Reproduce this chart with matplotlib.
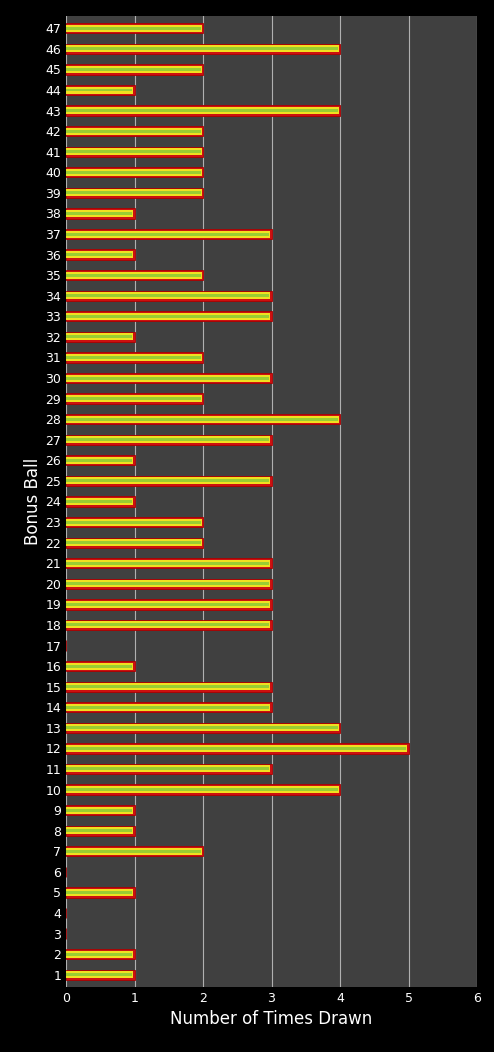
import matplotlib
matplotlib.use("Agg")
import matplotlib.pyplot as plt
import numpy as np

balls = list(range(1, 48))
counts = [1,1,0,0,1,0,2,1,1,4,3,5,4,3,3,1,0,3,3,3,3,2,2,1,3,1,3,4,2,3,2,1,3,3,2,1,3,1,2,2,2,2,4,1,2,4,2]

fig = plt.figure(figsize=(4.94, 10.52), dpi=100, facecolor="black")
ax = fig.add_axes([66/494, 1-987/1052, (477-66)/494, (987-16)/1052])
ax.set_facecolor("#404040")

y = np.array(balls)
ax.barh(y, counts, height=0.5, color="#cc1010", edgecolor="#aa0000", linewidth=0.6, zorder=3)
ax.barh(y, [max(c-0.02,0) for c in counts], height=0.34, color="#f0e020", linewidth=0, zorder=4)
ax.barh(y, [max(c-0.03,0) for c in counts], height=0.14, color="#9acd32", linewidth=0, zorder=5)

ax.set_xlim(0, 6)
ax.set_ylim(0.4, 47.6)
ax.set_xticks(range(0, 7))
ax.set_yticks(balls)
ax.grid(axis="x", color="#b0b0b0", linewidth=0.8, zorder=0)
ax.tick_params(colors="white", labelsize=9, length=0)
for s in ax.spines.values():
    s.set_visible(False)
ax.set_xlabel("Number of Times Drawn", color="white", fontsize=12)
ax.set_ylabel("Bonus Ball", color="white", fontsize=12, labelpad=2)
fig.savefig("out.png", dpi=100, facecolor="black")
